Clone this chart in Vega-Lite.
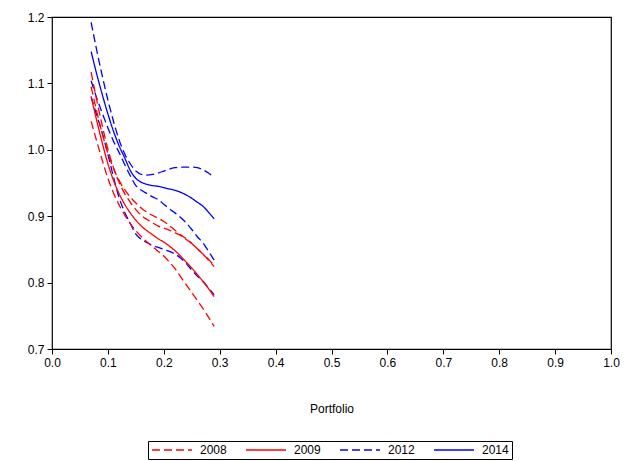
{
  "$schema": "https://vega.github.io/schema/vega-lite/v6.json",
  "width": 559,
  "height": 332,
  "autosize": {"type": "none"},
  "padding": {"left": 52, "top": 17, "right": 19, "bottom": 112},
  "background": "white",
  "config": {
    "font": "Liberation Sans",
    "view": {"stroke": "black", "strokeWidth": 1.2},
    "axis": {"domain": false, "grid": false, "tickColor": "black", "labelColor": "black", "titleColor": "black", "labelFont": "Liberation Sans", "titleFont": "Liberation Sans"}
  },
  "data": {"values": [
    {"x":0.07,"y":1.148,"curve":"2014","style":"2014"},{"x":0.08,"y":1.114,"curve":"2014","style":"2014"},{"x":0.09,"y":1.083,"curve":"2014","style":"2014"},{"x":0.10,"y":1.054,"curve":"2014","style":"2014"},{"x":0.11,"y":1.028,"curve":"2014","style":"2014"},{"x":0.12,"y":1.006,"curve":"2014","style":"2014"},{"x":0.13,"y":0.988,"curve":"2014","style":"2014"},{"x":0.14,"y":0.969,"curve":"2014","style":"2014"},{"x":0.15,"y":0.957,"curve":"2014","style":"2014"},{"x":0.16,"y":0.951,"curve":"2014","style":"2014"},{"x":0.17,"y":0.948,"curve":"2014","style":"2014"},{"x":0.18,"y":0.946,"curve":"2014","style":"2014"},{"x":0.19,"y":0.945,"curve":"2014","style":"2014"},{"x":0.20,"y":0.943,"curve":"2014","style":"2014"},{"x":0.21,"y":0.941,"curve":"2014","style":"2014"},{"x":0.22,"y":0.939,"curve":"2014","style":"2014"},{"x":0.23,"y":0.936,"curve":"2014","style":"2014"},{"x":0.24,"y":0.932,"curve":"2014","style":"2014"},{"x":0.25,"y":0.927,"curve":"2014","style":"2014"},{"x":0.26,"y":0.921,"curve":"2014","style":"2014"},{"x":0.27,"y":0.915,"curve":"2014","style":"2014"},{"x":0.28,"y":0.906,"curve":"2014","style":"2014"},{"x":0.29,"y":0.896,"curve":"2014","style":"2014"},

    {"x":0.07,"y":1.192,"curve":"2014u","style":"2012"},{"x":0.08,"y":1.150,"curve":"2014u","style":"2012"},{"x":0.09,"y":1.111,"curve":"2014u","style":"2012"},{"x":0.10,"y":1.075,"curve":"2014u","style":"2012"},{"x":0.11,"y":1.043,"curve":"2014u","style":"2012"},{"x":0.12,"y":1.015,"curve":"2014u","style":"2012"},{"x":0.13,"y":0.994,"curve":"2014u","style":"2012"},{"x":0.14,"y":0.979,"curve":"2014u","style":"2012"},{"x":0.15,"y":0.968,"curve":"2014u","style":"2012"},{"x":0.16,"y":0.963,"curve":"2014u","style":"2012"},{"x":0.17,"y":0.962,"curve":"2014u","style":"2012"},{"x":0.18,"y":0.963,"curve":"2014u","style":"2012"},{"x":0.19,"y":0.965,"curve":"2014u","style":"2012"},{"x":0.20,"y":0.968,"curve":"2014u","style":"2012"},{"x":0.21,"y":0.971,"curve":"2014u","style":"2012"},{"x":0.22,"y":0.973,"curve":"2014u","style":"2012"},{"x":0.23,"y":0.974,"curve":"2014u","style":"2012"},{"x":0.24,"y":0.974,"curve":"2014u","style":"2012"},{"x":0.25,"y":0.974,"curve":"2014u","style":"2012"},{"x":0.26,"y":0.973,"curve":"2014u","style":"2012"},{"x":0.27,"y":0.970,"curve":"2014u","style":"2012"},{"x":0.28,"y":0.965,"curve":"2014u","style":"2012"},{"x":0.29,"y":0.958,"curve":"2014u","style":"2012"},

    {"x":0.07,"y":1.104,"curve":"2014l","style":"2012"},{"x":0.08,"y":1.078,"curve":"2014l","style":"2012"},{"x":0.09,"y":1.055,"curve":"2014l","style":"2012"},{"x":0.10,"y":1.033,"curve":"2014l","style":"2012"},{"x":0.11,"y":1.013,"curve":"2014l","style":"2012"},{"x":0.12,"y":0.996,"curve":"2014l","style":"2012"},{"x":0.13,"y":0.978,"curve":"2014l","style":"2012"},{"x":0.14,"y":0.961,"curve":"2014l","style":"2012"},{"x":0.15,"y":0.946,"curve":"2014l","style":"2012"},{"x":0.16,"y":0.939,"curve":"2014l","style":"2012"},{"x":0.17,"y":0.934,"curve":"2014l","style":"2012"},{"x":0.18,"y":0.929,"curve":"2014l","style":"2012"},{"x":0.19,"y":0.925,"curve":"2014l","style":"2012"},{"x":0.20,"y":0.918,"curve":"2014l","style":"2012"},{"x":0.21,"y":0.911,"curve":"2014l","style":"2012"},{"x":0.22,"y":0.905,"curve":"2014l","style":"2012"},{"x":0.23,"y":0.898,"curve":"2014l","style":"2012"},{"x":0.24,"y":0.890,"curve":"2014l","style":"2012"},{"x":0.25,"y":0.880,"curve":"2014l","style":"2012"},{"x":0.26,"y":0.869,"curve":"2014l","style":"2012"},{"x":0.27,"y":0.860,"curve":"2014l","style":"2012"},{"x":0.28,"y":0.847,"curve":"2014l","style":"2012"},{"x":0.29,"y":0.834,"curve":"2014l","style":"2012"},

    {"x":0.07,"y":1.080,"curve":"2012","style":"2012"},{"x":0.08,"y":1.052,"curve":"2012","style":"2012"},{"x":0.09,"y":1.025,"curve":"2012","style":"2012"},{"x":0.10,"y":0.993,"curve":"2012","style":"2012"},{"x":0.11,"y":0.959,"curve":"2012","style":"2012"},{"x":0.12,"y":0.928,"curve":"2012","style":"2012"},{"x":0.13,"y":0.906,"curve":"2012","style":"2012"},{"x":0.14,"y":0.889,"curve":"2012","style":"2012"},{"x":0.15,"y":0.873,"curve":"2012","style":"2012"},{"x":0.16,"y":0.865,"curve":"2012","style":"2012"},{"x":0.17,"y":0.860,"curve":"2012","style":"2012"},{"x":0.18,"y":0.856,"curve":"2012","style":"2012"},{"x":0.19,"y":0.853,"curve":"2012","style":"2012"},{"x":0.20,"y":0.850,"curve":"2012","style":"2012"},{"x":0.21,"y":0.847,"curve":"2012","style":"2012"},{"x":0.22,"y":0.843,"curve":"2012","style":"2012"},{"x":0.23,"y":0.837,"curve":"2012","style":"2012"},{"x":0.24,"y":0.829,"curve":"2012","style":"2012"},{"x":0.25,"y":0.819,"curve":"2012","style":"2012"},{"x":0.26,"y":0.810,"curve":"2012","style":"2012"},{"x":0.27,"y":0.802,"curve":"2012","style":"2012"},{"x":0.28,"y":0.792,"curve":"2012","style":"2012"},{"x":0.29,"y":0.782,"curve":"2012","style":"2012"},

    {"x":0.07,"y":1.080,"curve":"2009","style":"2009"},{"x":0.08,"y":1.044,"curve":"2009","style":"2009"},{"x":0.09,"y":1.010,"curve":"2009","style":"2009"},{"x":0.10,"y":0.979,"curve":"2009","style":"2009"},{"x":0.11,"y":0.954,"curve":"2009","style":"2009"},{"x":0.12,"y":0.934,"curve":"2009","style":"2009"},{"x":0.13,"y":0.918,"curve":"2009","style":"2009"},{"x":0.14,"y":0.905,"curve":"2009","style":"2009"},{"x":0.15,"y":0.894,"curve":"2009","style":"2009"},{"x":0.16,"y":0.885,"curve":"2009","style":"2009"},{"x":0.17,"y":0.878,"curve":"2009","style":"2009"},{"x":0.18,"y":0.872,"curve":"2009","style":"2009"},{"x":0.19,"y":0.866,"curve":"2009","style":"2009"},{"x":0.20,"y":0.861,"curve":"2009","style":"2009"},{"x":0.21,"y":0.855,"curve":"2009","style":"2009"},{"x":0.22,"y":0.848,"curve":"2009","style":"2009"},{"x":0.23,"y":0.840,"curve":"2009","style":"2009"},{"x":0.24,"y":0.831,"curve":"2009","style":"2009"},{"x":0.25,"y":0.822,"curve":"2009","style":"2009"},{"x":0.26,"y":0.812,"curve":"2009","style":"2009"},{"x":0.27,"y":0.802,"curve":"2009","style":"2009"},{"x":0.28,"y":0.791,"curve":"2009","style":"2009"},{"x":0.29,"y":0.779,"curve":"2009","style":"2009"},

    {"x":0.07,"y":1.117,"curve":"2009u","style":"2008"},{"x":0.08,"y":1.075,"curve":"2009u","style":"2008"},{"x":0.09,"y":1.036,"curve":"2009u","style":"2008"},{"x":0.10,"y":1.001,"curve":"2009u","style":"2008"},{"x":0.11,"y":0.973,"curve":"2009u","style":"2008"},{"x":0.12,"y":0.951,"curve":"2009u","style":"2008"},{"x":0.13,"y":0.934,"curve":"2009u","style":"2008"},{"x":0.14,"y":0.921,"curve":"2009u","style":"2008"},{"x":0.15,"y":0.910,"curve":"2009u","style":"2008"},{"x":0.16,"y":0.901,"curve":"2009u","style":"2008"},{"x":0.17,"y":0.895,"curve":"2009u","style":"2008"},{"x":0.18,"y":0.890,"curve":"2009u","style":"2008"},{"x":0.19,"y":0.885,"curve":"2009u","style":"2008"},{"x":0.20,"y":0.882,"curve":"2009u","style":"2008"},{"x":0.21,"y":0.879,"curve":"2009u","style":"2008"},{"x":0.22,"y":0.875,"curve":"2009u","style":"2008"},{"x":0.23,"y":0.871,"curve":"2009u","style":"2008"},{"x":0.24,"y":0.865,"curve":"2009u","style":"2008"},{"x":0.25,"y":0.859,"curve":"2009u","style":"2008"},{"x":0.26,"y":0.851,"curve":"2009u","style":"2008"},{"x":0.27,"y":0.843,"curve":"2009u","style":"2008"},{"x":0.28,"y":0.834,"curve":"2009u","style":"2008"},{"x":0.29,"y":0.824,"curve":"2009u","style":"2008"},

    {"x":0.07,"y":1.043,"curve":"2009l","style":"2008"},{"x":0.08,"y":1.013,"curve":"2009l","style":"2008"},{"x":0.09,"y":0.984,"curve":"2009l","style":"2008"},{"x":0.10,"y":0.957,"curve":"2009l","style":"2008"},{"x":0.11,"y":0.935,"curve":"2009l","style":"2008"},{"x":0.12,"y":0.917,"curve":"2009l","style":"2008"},{"x":0.13,"y":0.902,"curve":"2009l","style":"2008"},{"x":0.14,"y":0.889,"curve":"2009l","style":"2008"},{"x":0.15,"y":0.878,"curve":"2009l","style":"2008"},{"x":0.16,"y":0.869,"curve":"2009l","style":"2008"},{"x":0.17,"y":0.861,"curve":"2009l","style":"2008"},{"x":0.18,"y":0.854,"curve":"2009l","style":"2008"},{"x":0.19,"y":0.847,"curve":"2009l","style":"2008"},{"x":0.20,"y":0.840,"curve":"2009l","style":"2008"},{"x":0.21,"y":0.831,"curve":"2009l","style":"2008"},{"x":0.22,"y":0.821,"curve":"2009l","style":"2008"},{"x":0.23,"y":0.809,"curve":"2009l","style":"2008"},{"x":0.24,"y":0.797,"curve":"2009l","style":"2008"},{"x":0.25,"y":0.785,"curve":"2009l","style":"2008"},{"x":0.26,"y":0.773,"curve":"2009l","style":"2008"},{"x":0.27,"y":0.761,"curve":"2009l","style":"2008"},{"x":0.28,"y":0.748,"curve":"2009l","style":"2008"},{"x":0.29,"y":0.734,"curve":"2009l","style":"2008"},

    {"x":0.07,"y":1.095,"curve":"2008","style":"2008"},{"x":0.08,"y":1.058,"curve":"2008","style":"2008"},{"x":0.09,"y":1.024,"curve":"2008","style":"2008"},{"x":0.10,"y":0.995,"curve":"2008","style":"2008"},{"x":0.11,"y":0.972,"curve":"2008","style":"2008"},{"x":0.12,"y":0.954,"curve":"2008","style":"2008"},{"x":0.13,"y":0.940,"curve":"2008","style":"2008"},{"x":0.14,"y":0.929,"curve":"2008","style":"2008"},{"x":0.15,"y":0.920,"curve":"2008","style":"2008"},{"x":0.16,"y":0.912,"curve":"2008","style":"2008"},{"x":0.17,"y":0.906,"curve":"2008","style":"2008"},{"x":0.18,"y":0.901,"curve":"2008","style":"2008"},{"x":0.19,"y":0.897,"curve":"2008","style":"2008"},{"x":0.20,"y":0.892,"curve":"2008","style":"2008"},{"x":0.21,"y":0.886,"curve":"2008","style":"2008"},{"x":0.22,"y":0.879,"curve":"2008","style":"2008"},{"x":0.23,"y":0.872,"curve":"2008","style":"2008"},{"x":0.24,"y":0.866,"curve":"2008","style":"2008"},{"x":0.25,"y":0.859,"curve":"2008","style":"2008"},{"x":0.26,"y":0.851,"curve":"2008","style":"2008"},{"x":0.27,"y":0.843,"curve":"2008","style":"2008"},{"x":0.28,"y":0.835,"curve":"2008","style":"2008"},{"x":0.29,"y":0.826,"curve":"2008","style":"2008"}
  ]},
  "mark": {"type": "line", "strokeWidth": 1.3, "interpolate": "monotone"},
  "encoding": {
    "x": {"field": "x", "type": "quantitative",
      "scale": {"domain": [0, 1], "nice": false, "zero": false},
      "axis": {"title": "Portfolio", "values": [0,0.1,0.2,0.3,0.4,0.5,0.6,0.7,0.8,0.9,1.0], "format": ".1f", "tickSize": 5, "labelFontSize": 12, "labelPadding": 3, "titleFontSize": 12, "titleFontWeight": "normal", "titlePadding": 35, "labelFlush": false}},
    "y": {"field": "y", "type": "quantitative",
      "scale": {"domain": [0.7, 1.2], "nice": false, "zero": false},
      "axis": {"title": null, "values": [0.7,0.8,0.9,1.0,1.1,1.2], "format": ".1f", "tickSize": 5, "labelFontSize": 12, "labelPadding": 3}},
    "detail": {"field": "curve"},
    "color": {"field": "style", "type": "nominal",
      "scale": {"domain": ["2008","2009","2012","2014"], "range": ["#FF0000","#FF0000","#0000FF","#0000FF"]},
      "legend": {"title": null, "orient": "none", "legendX": 96, "legendY": 424, "direction": "horizontal", "columns": 4, "strokeColor": "black", "padding": 3, "symbolType": "M-1,0H7", "symbolSize": 100, "symbolStrokeWidth": 1.3, "labelFontSize": 12, "labelColor": "black", "labelOffset": 37, "columnPadding": 16,
        "encode": {"symbols": {"update": {"strokeDash": {"signal": "datum.value === '2008' || datum.value === '2012' ? [12,5,12,7,2,2] : [1,0]"}}}}}},
    "strokeDash": {"field": "style", "type": "nominal",
      "scale": {"domain": ["2008","2009","2012","2014"], "range": [[8,4],[1,0],[8,4],[1,0]]},
      "legend": null}
  }
}
